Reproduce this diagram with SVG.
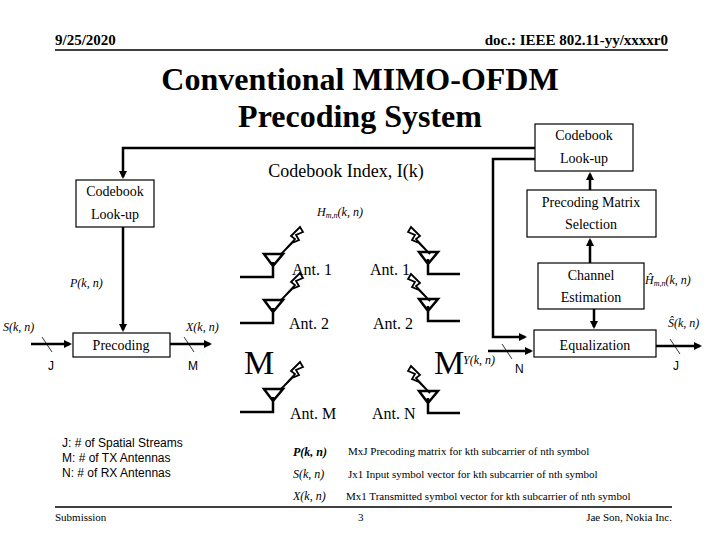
<svg xmlns="http://www.w3.org/2000/svg" width="720" height="540" viewBox="0 0 720 540">
<style>
.t{font-family:"Liberation Serif",serif;fill:#000}
.s{font-family:"Liberation Sans",sans-serif;fill:#000}
.b{font-family:"Liberation Serif",serif;fill:#000;font-size:14px}
.i{font-family:"Liberation Serif",serif;font-style:italic;fill:#000;font-size:12px}
.box{fill:#fff;stroke:#000;stroke-width:1.2}
.ln{fill:none;stroke:#000;stroke-width:2.5}
.thin{stroke:#000;stroke-width:0.8}
.ant{fill:none;stroke:#000;stroke-width:2.5}
</style>
<defs>
<marker id="ah" markerWidth="8" markerHeight="8" refX="6" refY="4" orient="auto" markerUnits="userSpaceOnUse"><path d="M0,0 L8,4 L0,8 z" fill="#000"/></marker>
<symbol id="bolt" overflow="visible"><path d="M0,0 L-7,3 L-4,8 L-11,11 L-22,22 L-8,7 L-12,4 L-3,-5 z" fill="#fff" stroke="#000" stroke-width="1.8"/></symbol>
</defs>
<rect width="720" height="540" fill="#fff"/>
<text class="t" x="55" y="45" font-size="15" font-weight="bold">9/25/2020</text>
<text class="t" x="668" y="45" font-size="15" font-weight="bold" text-anchor="end">doc.: IEEE 802.11-yy/xxxxr0</text>
<line x1="55" y1="50" x2="668" y2="50" stroke="#000" stroke-width="1.5"/>
<text class="t" x="360" y="90" font-size="32" font-weight="bold" text-anchor="middle">Conventional MIMO-OFDM</text>
<text class="t" x="360" y="127" font-size="32" font-weight="bold" text-anchor="middle">Precoding System</text>
<text class="t" x="346" y="177" font-size="18" text-anchor="middle">Codebook Index, I(k)</text>
<text class="i" x="340" y="216" text-anchor="middle">H<tspan font-size="8" dy="2">m,n</tspan><tspan dy="-2">(k, n)</tspan></text>
<text class="i" x="70" y="287">P(k, n)</text>
<text class="i" x="3" y="331">S(k, n)</text>
<text class="i" x="186" y="331">X(k, n)</text>
<text class="i" x="463" y="364">Y(k, n)</text>
<text class="i" x="645" y="284">Ĥ<tspan font-size="8" dy="2">m,n</tspan><tspan dy="-2">(k, n)</tspan></text>
<text class="i" x="668" y="327">Ŝ(k, n)</text>
<text class="s" x="48" y="370" font-size="12">J</text>
<text class="s" x="188" y="370" font-size="12">M</text>
<text class="s" x="515" y="373" font-size="12">N</text>
<text class="s" x="673" y="370" font-size="12">J</text>
<text class="t" x="244" y="374" font-size="34">M</text>
<text class="t" x="434" y="374" font-size="34">M</text>
<g id="connectors">
<polyline class="ln" points="535,148 123,148 123,177" marker-end="url(#ah)"/>
<line class="ln" x1="123" y1="227" x2="123" y2="330" marker-end="url(#ah)"/>
<line class="ln" x1="31" y1="344" x2="70" y2="344" marker-end="url(#ah)"/>
<line class="ln" x1="170" y1="344" x2="210" y2="344" marker-end="url(#ah)"/>
<polyline class="ln" points="535,159 493,159 493,337 525,337" marker-end="url(#ah)"/>
<line class="ln" x1="590" y1="190" x2="590" y2="174" marker-end="url(#ah)"/>
<line class="ln" x1="590" y1="263" x2="590" y2="240" marker-end="url(#ah)"/>
<line class="ln" x1="594" y1="309" x2="594" y2="327" marker-end="url(#ah)"/>
<line class="ln" x1="488" y1="351" x2="531" y2="351" marker-end="url(#ah)"/>
<line class="ln" x1="656" y1="346" x2="700" y2="346" marker-end="url(#ah)"/>
<line class="thin" x1="42" y1="337" x2="52" y2="352"/>
<line class="thin" x1="184" y1="337" x2="194" y2="352"/>
<line class="thin" x1="502" y1="344" x2="512" y2="359"/>
<line class="thin" x1="670" y1="339" x2="680" y2="354"/>
</g>
<g id="codebook-tx"><rect class="box" x="76" y="180" width="78" height="47"/><text class="b" x="115" y="196" text-anchor="middle">Codebook</text><text class="b" x="115" y="219" text-anchor="middle">Look-up</text></g>
<g id="precoding"><rect class="box" x="73" y="333" width="97" height="24"/><text class="b" x="121" y="350" text-anchor="middle">Precoding</text></g>
<g id="codebook-rx"><rect class="box" x="535" y="124" width="98" height="47"/><text class="b" x="584" y="140" text-anchor="middle">Codebook</text><text class="b" x="584" y="163" text-anchor="middle">Look-up</text></g>
<g id="pms"><rect class="box" x="527" y="190" width="129" height="47"/><text class="b" x="591" y="207" text-anchor="middle">Precoding Matrix</text><text class="b" x="591" y="229" text-anchor="middle">Selection</text></g>
<g id="chest"><rect class="box" x="538" y="263" width="106" height="46"/><text class="b" x="591" y="280" text-anchor="middle">Channel</text><text class="b" x="591" y="302" text-anchor="middle">Estimation</text></g>
<g id="eq"><rect class="box" x="534" y="330" width="122" height="27"/><text class="b" x="595" y="350" text-anchor="middle">Equalization</text></g>
<g id="tx-ants">
<path class="ant" d="M240,277 H273 V262 M264,254 H283 L273,266 Z"/><use href="#bolt" x="303" y="232"/>
<path class="ant" d="M240,323 H273 V308 M264,300 H283 L273,312 Z"/><use href="#bolt" x="303" y="278"/>
<path class="ant" d="M240,412 H273 V397 M264,389 H283 L273,401 Z"/><use href="#bolt" x="303" y="367"/>
<text class="t" x="292" y="275" font-size="16">Ant. 1</text>
<text class="t" x="289" y="329" font-size="16">Ant. 2</text>
<text class="t" x="290" y="419" font-size="16">Ant. M</text>
</g>
<g id="rx-ants">
<path class="ant" d="M460,274 H428 V259 M419,252 H438 L428,264 Z"/><use href="#bolt" x="402" y="232" transform="translate(810,0) scale(-1,1)"/>
<path class="ant" d="M460,321 H428 V306 M419,299 H438 L428,311 Z"/><use href="#bolt" x="402" y="279" transform="translate(810,0) scale(-1,1)"/>
<path class="ant" d="M460,413 H428 V398 M419,391 H438 L428,403 Z"/><use href="#bolt" x="402" y="371" transform="translate(810,0) scale(-1,1)"/>
<text class="t" x="370" y="275" font-size="16">Ant. 1</text>
<text class="t" x="373" y="329" font-size="16">Ant. 2</text>
<text class="t" x="372" y="419" font-size="16">Ant. N</text>
</g>
<text class="s" x="62" y="447" font-size="12">J: # of Spatial Streams</text>
<text class="s" x="62" y="462" font-size="12">M: # of TX Antennas</text>
<text class="s" x="62" y="477" font-size="12">N: # of RX Antennas</text>
<text class="i" x="293" y="456" font-size="14" font-weight="bold">P(k, n)</text>
<text class="t" x="348" y="455" font-size="11">MxJ Precoding matrix for kth subcarrier of nth symbol</text>
<text class="i" x="293" y="478" font-size="14">S(k, n)</text>
<text class="t" x="348" y="478" font-size="11">Jx1 Input symbol vector for kth subcarrier of nth symbol</text>
<text class="i" x="293" y="500" font-size="14">X(k, n)</text>
<text class="t" x="346" y="500" font-size="11">Mx1 Transmitted symbol vector for kth subcarrier of nth symbol</text>
<line x1="55" y1="507" x2="672" y2="507" stroke="#000" stroke-width="1.5"/>
<text class="t" x="55" y="521" font-size="11">Submission</text>
<text class="t" x="358" y="521" font-size="11">3</text>
<text class="t" x="672" y="521" font-size="11" text-anchor="end">Jae Son, Nokia Inc.</text>
</svg>
